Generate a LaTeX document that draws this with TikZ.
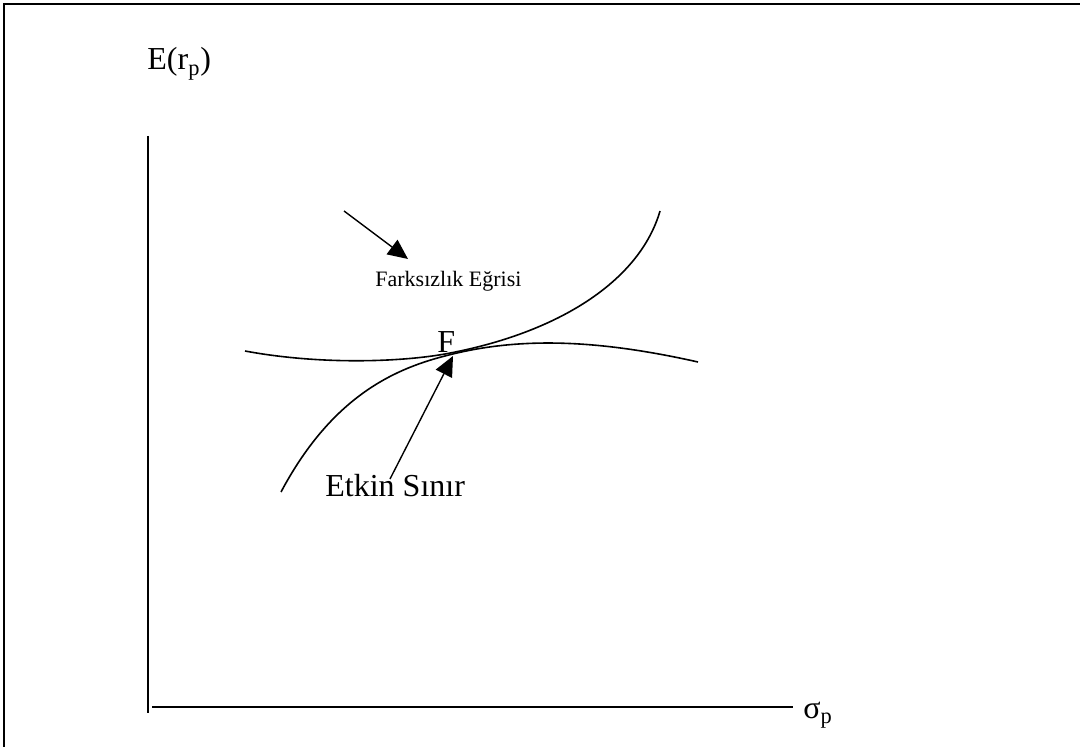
\documentclass[tikz,border=0pt]{standalone}
\usepackage{fontspec}
\setmainfont{Liberation Serif}
\usetikzlibrary{arrows.meta}

\tikzset{
  etiket/.style={anchor=base west,inner sep=0pt},
  ok/.style={-{Triangle[length=10pt,width=9pt]},line width=0.7pt}
}

\begin{document}
\begin{tikzpicture}[x=0.5pt,y=-0.5pt]
    \useasboundingbox (0,0) rectangle (1080,747);
    \draw[line width=1.2pt] (4,747) -- (4,4) -- (1080,4);
    % eksenler
    \draw[line width=1pt] (148,136) -- (148,713);
    \draw[line width=1pt] (152,707) -- (793,707);
    \node[etiket] (ey) at (147,70) {\fontsize{16}{18}\selectfont E(r\textsubscript{p})};
    \node[etiket] (sx) at (803,718) {\fontsize{16}{18}\selectfont σ\textsubscript{p}};
    % farksizlik egrisi ve etkin sinir
    \draw[line width=0.8pt] (245,351) .. controls (320,365) and (400,362) .. (445,354)
        .. controls (560,333) and (640,280) .. (660,211);
    \draw[line width=0.8pt] (281,492) .. controls (330,400) and (390,370) .. (445,356)
        .. controls (520,336) and (600,340) .. (698,362);
    \node[etiket] (fe) at (375,287) {\fontsize{11}{13}\selectfont Farksızlık Eğrisi};
    \node[etiket] (f) at (437,353) {\fontsize{16}{18}\selectfont F};
    \node[etiket] (es) at (325,497) {\fontsize{16}{18}\selectfont Etkin Sınır};
    \coordinate (a1) at (344,211);
    \coordinate (a2) at (408,259);
    \coordinate (b1) at (390,479);
    \coordinate (b2) at (453,356);
    \draw[ok] (a1) -- (a2);
    \draw[ok] (b1) -- (b2);
\end{tikzpicture}
\end{document}
